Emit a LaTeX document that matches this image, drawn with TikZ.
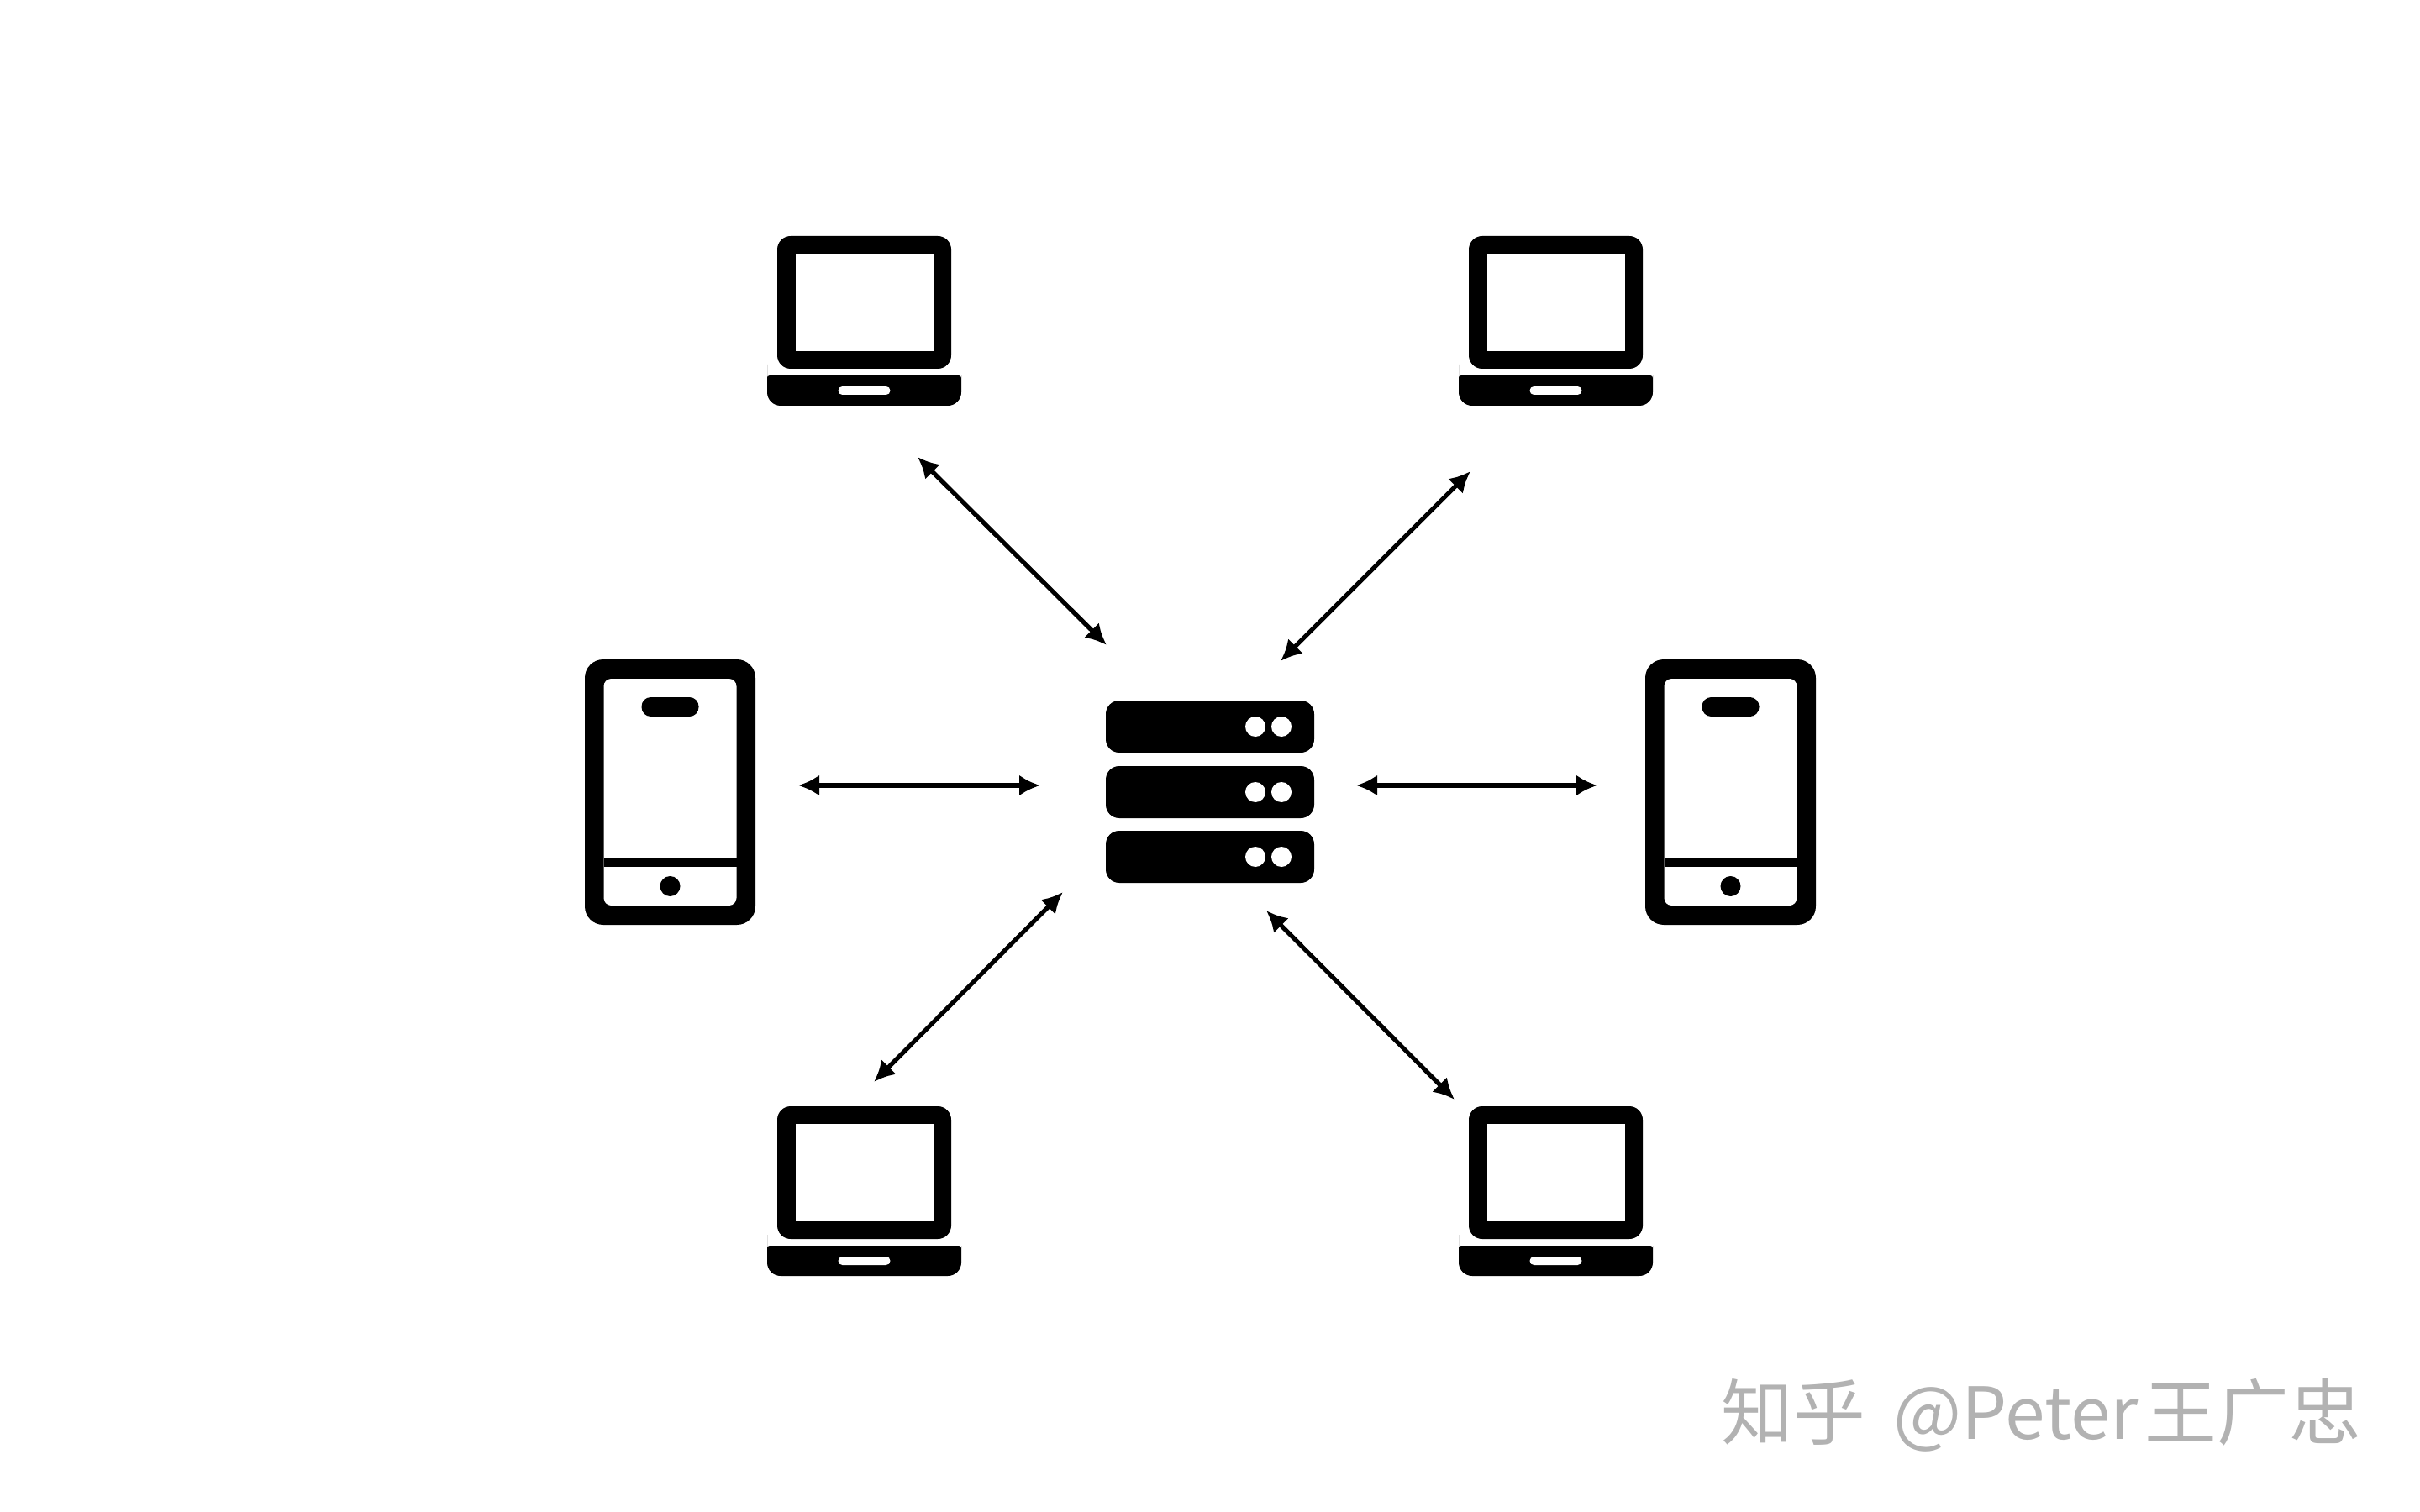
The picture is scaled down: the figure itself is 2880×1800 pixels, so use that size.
\documentclass[tikz,border=0pt]{standalone}
\usepackage{fontspec}
\usepackage{tikz}
\usetikzlibrary{arrows.meta}
\newfontfamily\cjkfont{Noto Sans CJK SC}
\definecolor{markgray}{HTML}{B2B2B2}

\tikzset{
    laptop/.pic={
        \fill[rounded corners=1.6mm] (-103.5,-101) rectangle (103.5,57);
        \fill[white] (-82,-80) rectangle (82,36);
        \fill (-115.5,68) [rounded corners=0.3mm] -- (-115.5,65) -- (115.5,65) -- (115.5,68)
            [rounded corners=1.6mm] -- (115.5,101) -- (-115.5,101) -- cycle;
        \fill[white,rounded corners=0.5mm] (-31,78) rectangle (31,88);
    },
    phone/.pic={
        \fill[rounded corners=2.2mm] (-101.5,-158) rectangle (101.5,158);
        \fill[white,rounded corners=0.9mm] (-79,-135) rectangle (79,135);
        \fill[rounded corners=1.1mm] (-34,-113) rectangle (34,-90);
        \fill (-79,79) rectangle (79,89);
        \fill (0,112) circle (1.2mm);
    },
    server/.pic={
        \foreach \rowy in {-78,0,77} {
            \fill[rounded corners=1.6mm] (-124,\rowy-31) rectangle (124,\rowy+31);
            \fill[white] (54,\rowy) circle (1.2mm);
            \fill[white] (85,\rowy) circle (1.2mm);
        }
    }
}

\begin{document}
\begin{tikzpicture}[
                    x=0.1mm,
                    y=-0.1mm,
                    <->,
                    >={Latex[length=2.5mm,width=2.5mm]},
                    line width=0.52mm
                ]
                \useasboundingbox (0,0) rectangle (2880,1800);

                \coordinate (laptopA) at (1028.5,382);
                \coordinate (laptopB) at (1851.5,382);
                \coordinate (laptopC) at (1028.5,1418);
                \coordinate (laptopD) at (1851.5,1418);
                \coordinate (phoneL) at (797.5,943);
                \coordinate (phoneR) at (2059.5,943);
                \coordinate (serverM) at (1440,943);

                \pic at (laptopA) {laptop};
                \pic at (laptopB) {laptop};
                \pic at (laptopC) {laptop};
                \pic at (laptopD) {laptop};
                \pic at (phoneL) {phone};
                \pic at (phoneR) {phone};
                \pic at (serverM) {server};

                \coordinate (A1) at (1092,544);
                \coordinate (A2) at (1317,768);
                \coordinate (B1) at (1750,561);
                \coordinate (B2) at (1524,787);
                \coordinate (L1) at (950,935);
                \coordinate (L2) at (1238,935);
                \coordinate (R1) at (1614,935);
                \coordinate (R2) at (1901,935);
                \coordinate (C1) at (1265,1062);
                \coordinate (C2) at (1040,1288);
                \coordinate (D1) at (1507,1084);
                \coordinate (D2) at (1731,1309);

                \path
                (A1) edge (A2)
                (B1) edge (B2)
                (L1) edge (L2)
                (R1) edge (R2)
                (C1) edge (C2)
                (D1) edge (D2)
                ;

                \node (mark) [anchor=west,inner sep=0pt,text=markgray] at (2046,1685)
                    {\cjkfont\fontsize{24.4pt}{24.4pt}\selectfont 知乎 \hspace{1.4mm}@Peter \hspace{-1.1mm}王广忠};
            \end{tikzpicture}
\end{document}
